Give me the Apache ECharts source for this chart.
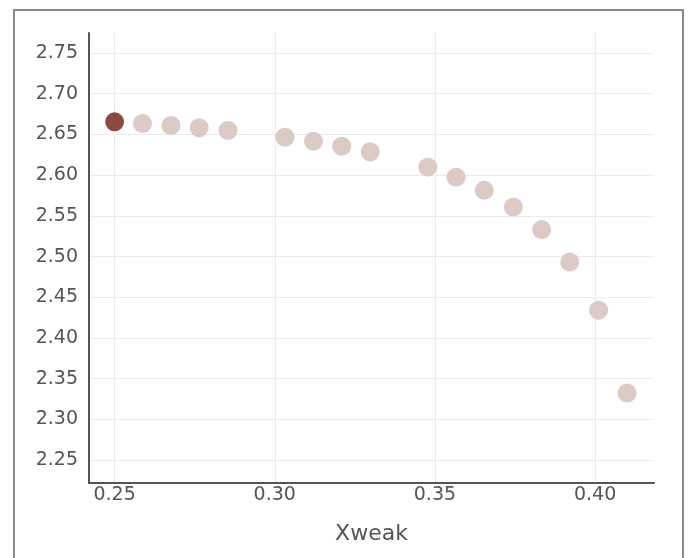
<!DOCTYPE html>
<html>
<head>
<meta charset="utf-8">
<script src="https://cdn.jsdelivr.net/npm/echarts@6/dist/echarts.min.js"></script>
<style>
  html, body { margin: 0; padding: 0; background: #fff; }
  #frame {
    position: absolute; left: 13px; top: 9px; width: 671px; height: 560px;
    border: 2px solid #888; box-sizing: border-box;
  }
  #chart { position: absolute; left: 0; top: 0; width: 689px; height: 558px; }
</style>
</head>
<body>
<div id="frame"></div>
<div id="chart"></div>
<script>
// data
var xweak = [0.25, 0.2587, 0.2676, 0.2764, 0.2854, 0.3032, 0.3121, 0.3209, 0.3298,
             0.3478, 0.3566, 0.3654, 0.3745, 0.3833, 0.3921, 0.4011, 0.4100];
var yvals = [2.6654, 2.6634, 2.6609, 2.6581, 2.6548, 2.6466, 2.6417, 2.6355, 2.6287,
             2.6098, 2.5975, 2.5813, 2.5608, 2.5331, 2.4934, 2.4342, 2.3325];
var highlighted = 0;

var myChart = echarts.init(document.getElementById("chart"));

var points = xweak.map(function(x, i) {
  return {
    value: [x, yvals[i]],
    itemStyle: { color: i === highlighted ? "#8b4a40" : "#dccac7", opacity: 1 }
  };
});

var labelFont = "DejaVu Sans";

var option = {
  animation: false,
  grid: { left: 89, right: 35, top: 33, bottom: 75 },
  xAxis: {
    type: "value",
    min: 0.242,
    max: 0.4184,
    splitNumber: 4,
    name: "Xweak",
    nameLocation: "middle",
    nameGap: 40,
    nameTextStyle: { fontFamily: labelFont, fontSize: 22, color: "#555" },
    axisLine: { lineStyle: { color: "#555", width: 2 } },
    axisTick: { show: false },
    axisLabel: {
      fontFamily: labelFont, fontSize: 19, color: "#555", margin: 3,
      showMinLabel: false, showMaxLabel: false,
      formatter: function(v) { return v.toFixed(2); }
    },
    splitLine: { show: true, showMinLine: false, showMaxLine: false, lineStyle: { color: "#ebebeb", width: 1 } }
  },
  yAxis: {
    type: "value",
    min: 2.222,
    max: 2.7745,
    splitNumber: 11,
    axisLine: { show: true, lineStyle: { color: "#555", width: 2 } },
    axisTick: { show: false },
    axisLabel: {
      fontFamily: labelFont, fontSize: 19, color: "#555", margin: 11,
      showMinLabel: false, showMaxLabel: false,
      formatter: function(v) { return v.toFixed(2); }
    },
    splitLine: { show: true, showMinLine: false, showMaxLine: false, lineStyle: { color: "#ebebeb", width: 1 } }
  },
  series: [
    {
      type: "scatter",
      symbolSize: 19,
      data: points
    }
  ]
};

myChart.setOption(option);
</script>
</body>
</html>
